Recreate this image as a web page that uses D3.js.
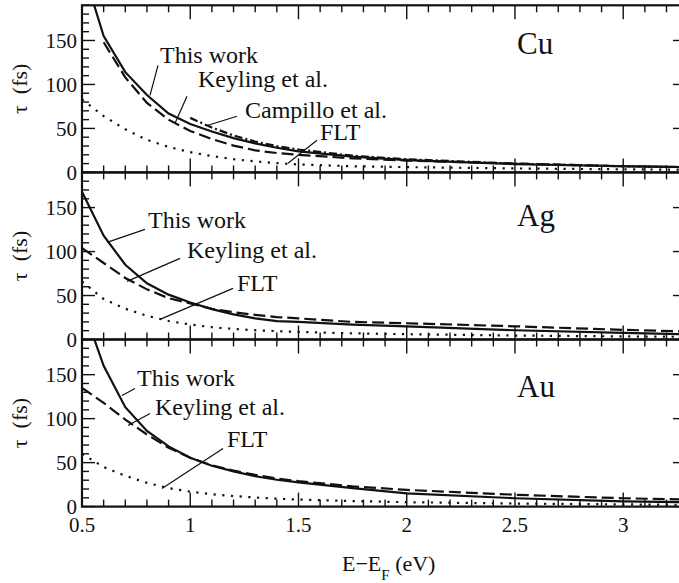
<!DOCTYPE html>
<html>
<head>
<meta charset="utf-8">
<script src="https://cdn.jsdelivr.net/npm/d3@7/dist/d3.min.js"></script>
<style>
  body { margin: 0; background: #fff; }
  text { font-family: "Liberation Serif", "Times New Roman", serif; fill: #111; }
</style>
</head>
<body>
<div id="chart"></div>
<script>
// energies (eV) shared by all curves
const energy = [0.5, 0.6, 0.7, 0.8, 0.9, 1.0, 1.1, 1.2, 1.3, 1.4, 1.5, 1.75, 2.0, 2.5, 3.0, 3.3];

// Cu lifetimes (fs)
const cuThisWork = [235, 155, 114, 88, 67, 55, 46.5, 39, 33, 28, 24, 18, 14, 9.5, 7, 6];
const cuKeyling = [null, 148, 108, 79, 60, 47, 38, 30.5, 25, 22, 20, 16, 13.5, 10, 7, 6];
const cuCampillo = [null, null, null, null, null, 62, 51, 42, 35, 30, 26, 19, 15, 10, 7, 6];
const cuFLT = [83, 64, 49, 37, 29, 23, 18.5, 15, 12.5, 10.5, 9, 7, 6, 4.5, 3.5, 3];

// Ag lifetimes (fs)
const agThisWork = [168, 118, 85, 64, 51, 42, 34.5, 28.5, 24, 21, 20, 17, 15, 10.5, 7.5, 6];
const agKeyling = [104, 87, 70, 57, 47, 41, 35, 31, 28, 25.5, 24, 20, 18.5, 15, 11, 9];
const agFLT = [66, 46, 35, 27, 21, 17, 14, 12, 10.5, 9.5, 8.7, 7, 6, 4.5, 3.5, 3];

// Au lifetimes (fs)
const auThisWork = [230, 160, 113, 86, 68.5, 55.5, 46.5, 40, 34.5, 30.5, 27.5, 21, 15, 9.5, 6, 5];
const auKeyling = [135, 118, 99, 82, 67, 55.5, 47, 41, 36, 32, 29, 23, 19, 13.5, 9.5, 8];
const auFLT = [60, 45, 35, 27, 21, 17, 14, 12, 10.3, 9, 8, 6.3, 5, 3.5, 2.5, 2];

const metals = ['Cu', 'Ag', 'Au'];
const xTicks = [0.5, 1, 1.5, 2, 2.5, 3];
const yTicks = [0, 50, 100, 150];

const series = {
  Cu: [
    { name: 'This work', values: cuThisWork, dash: null },
    { name: 'Keyling et al.', values: cuKeyling, dash: '12,5' },
    { name: 'Campillo et al.', values: cuCampillo, dash: '8,3,2,3' },
    { name: 'FLT', values: cuFLT, dash: '2.2,6.5' },
  ],
  Ag: [
    { name: 'This work', values: agThisWork, dash: null },
    { name: 'Keyling et al.', values: agKeyling, dash: '12,5' },
    { name: 'FLT', values: agFLT, dash: '2.2,6.5' },
  ],
  Au: [
    { name: 'This work', values: auThisWork, dash: null },
    { name: 'Keyling et al.', values: auKeyling, dash: '12,5' },
    { name: 'FLT', values: auFLT, dash: '2.2,6.5' },
  ],
};

// label placement inside each panel (px relative to panel top)
const notes = {
  Cu: [
    { t: 'This work', x: 160, y: 58, l: [158, 60, 150, 90] },
    { t: 'Keyling et al.', x: 198, y: 82, l: [187, 91, 175, 118] },
    { t: 'Campillo et al.', x: 245, y: 113, l: [237, 111, 208, 120] },
    { t: 'FLT', x: 320, y: 135, l: [317, 135, 288, 158] },
  ],
  Ag: [
    { t: 'This work', x: 148, y: 56, l: [145, 57, 107, 70] },
    { t: 'Keyling et al.', x: 187, y: 86, l: [180, 86, 127, 109] },
    { t: 'FLT', x: 237, y: 119, l: [233, 116, 160, 147] },
  ],
  Au: [
    { t: 'This work', x: 137, y: 46, l: [135, 49, 122, 56] },
    { t: 'Keyling et al.', x: 155, y: 75, l: [150, 74, 128, 86] },
    { t: 'FLT', x: 227, y: 107, l: [223, 109, 162, 149] },
  ],
};
const metalLabelY = { Cu: 49, Ag: 54, Au: 57 };

const W = 679, H = 583;
const left = 82, right = 686;
const panelTop = 5.3, panelH = 167.1;

const svg = d3.select('#chart').append('svg')
  .attr('width', W).attr('height', H);

const x = d3.scaleLinear().domain([0.5, 3.29]).range([left, right]);

metals.forEach((metal, p) => {
  const top = panelTop + p * panelH;
  const bottom = top + panelH;
  const y = d3.scaleLinear().domain([0, 190]).range([bottom, top]);
  const g = svg.append('g');

  g.append('clipPath').attr('id', 'clip-' + metal)
    .append('rect').attr('x', left).attr('y', top)
    .attr('width', right - left).attr('height', panelH);

  // curves
  const line = d3.line()
    .defined((d) => d[1] != null)
    .x((d) => x(d[0]))
    .y((d) => y(d[1]));
  series[metal].forEach((s) => {
    g.append('path')
      .datum(energy.map((e, i) => [e, s.values[i]]))
      .attr('clip-path', `url(#clip-${metal})`)
      .attr('fill', 'none')
      .attr('stroke', '#111')
      .attr('stroke-width', 2.2)
      .attr('stroke-dasharray', s.dash)
      .attr('d', line);
  });

  // frame
  g.append('rect')
    .attr('x', left).attr('y', top)
    .attr('width', right - left).attr('height', panelH)
    .attr('fill', 'none').attr('stroke', '#111').attr('stroke-width', 2.2);

  // y ticks, left and right
  const yMinor = d3.range(0, 191, 10);
  yMinor.forEach((v) => {
    const len = v % 50 === 0 ? 13 : 7;
    g.append('line').attr('x1', left).attr('x2', left + len)
      .attr('y1', y(v)).attr('y2', y(v)).attr('stroke', '#111').attr('stroke-width', 1.4);
    g.append('line').attr('x1', right).attr('x2', right - len)
      .attr('y1', y(v)).attr('y2', y(v)).attr('stroke', '#111').attr('stroke-width', 1.4);
  });
  g.selectAll('.ylab').data(yTicks).enter().append('text')
    .attr('x', 77).attr('y', (d) => y(d))
    .attr('dy', '0.35em')
    .attr('text-anchor', 'end')
    .style('font-size', '21px')
    .text((d) => d);

  // x ticks, top and bottom of each panel
  const xMinor = d3.range(5, 33).map((v) => v / 10);
  xMinor.forEach((v) => {
    const len = Math.abs(v * 2 - Math.round(v * 2)) < 1e-6 ? 14 : 7;
    g.append('line').attr('x1', x(v)).attr('x2', x(v))
      .attr('y1', top).attr('y2', top + len).attr('stroke', '#111').attr('stroke-width', 1.4);
    g.append('line').attr('x1', x(v)).attr('x2', x(v))
      .attr('y1', bottom).attr('y2', bottom - len).attr('stroke', '#111').attr('stroke-width', 1.4);
  });

  // y axis title
  g.append('text')
    .attr('transform', `translate(27,${(top + bottom) / 2}) rotate(-90)`)
    .attr('text-anchor', 'middle')
    .style('font-size', '22px')
    .text('\u03c4\u00a0\u00a0(fs)');

  // metal label
  g.append('text')
    .attr('x', 517).attr('y', top + metalLabelY[metal])
    .style('font-size', '31px')
    .text(metal);

  // curve annotations
  notes[metal].forEach((n) => {
    g.append('text')
      .attr('x', n.x).attr('y', top + n.y)
      .style('font-size', '24px')
      .text(n.t);
    g.append('line')
      .attr('x1', n.l[0]).attr('y1', top + n.l[1])
      .attr('x2', n.l[2]).attr('y2', top + n.l[3])
      .attr('stroke', '#111').attr('stroke-width', 1.2);
  });
});

// x tick labels under last panel
const baseY = panelTop + 3 * panelH;
svg.selectAll('.xlab').data(xTicks).enter().append('text')
  .attr('x', (d) => x(d)).attr('y', baseY + 25)
  .attr('text-anchor', 'middle')
  .style('font-size', '21px')
  .text((d) => d);

// x axis title
const xt = svg.append('text')
  .attr('x', 342).attr('y', 571)
  .style('font-size', '22px');
xt.append('tspan').text('E\u2212E');
xt.append('tspan').attr('dy', 9).style('font-size', '15px').text('F');
xt.append('tspan').attr('dy', -9).text('\u00a0(eV)');
</script>
</body>
</html>
